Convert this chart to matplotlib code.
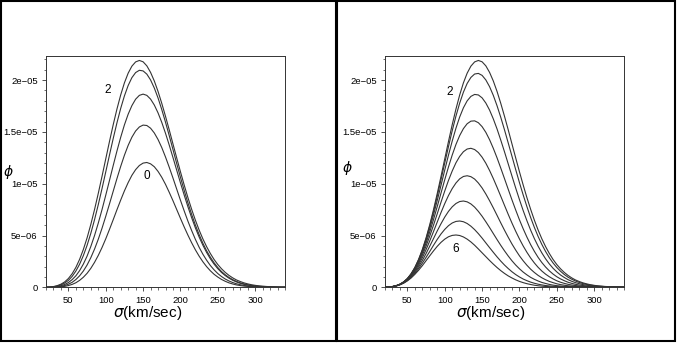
import matplotlib
matplotlib.use('Agg')
import matplotlib.pyplot as plt
from matplotlib.patches import Rectangle
from matplotlib.ticker import MultipleLocator, FixedLocator

# sigma grid (km/sec)
sigma = list(range(20, 345, 5))
SCALE = 1e-8  # values below are in units of 1e-8

# Left panel: curves from "2" (top) down to "0"
left_2 = [1,3,7,16,30,52,85,131,192,270,365,477,607,751,907,1071,1240,1408,1570,1721,1857,1974,2067,2135,2176,2190,2177,2138,2075,1992,1891,1776,1651,1520,1384,1249,1116,988,866,753,648,553,468,393,327,269,220,179,144,115,91,71,56,43,33,25,19,14,11,8,6,4,3,2,2]
left_b = [1,2,5,12,23,41,67,105,157,223,306,405,521,653,798,953,1114,1277,1437,1588,1727,1848,1948,2024,2073,2095,2089,2058,2002,1924,1828,1716,1594,1464,1330,1195,1063,936,816,704,601,509,426,353,291,237,191,152,121,95,74,57,43,33,25,18,13,10,7,5,4,3,2,1,1]
left_c = [0,1,3,8,15,27,46,74,111,161,224,301,394,500,620,750,889,1032,1176,1316,1448,1568,1671,1754,1816,1853,1865,1853,1817,1760,1684,1592,1487,1373,1253,1131,1009,891,778,672,574,486,407,337,276,224,180,143,113,88,68,52,39,29,22,16,12,8,6,4,3,2,1,1,1]
left_d = [0,1,2,4,9,17,30,48,75,111,157,215,286,369,464,570,685,805,928,1050,1167,1275,1370,1449,1509,1548,1566,1562,1536,1490,1427,1349,1258,1159,1055,948,841,738,639,548,463,387,320,262,211,169,133,104,80,61,46,34,25,18,13,9,7,5,3,2,1,1,1,0,0]
left_0 = [0,0,1,2,5,9,17,28,44,67,97,135,183,241,308,384,468,559,653,749,842,931,1011,1081,1136,1176,1199,1205,1192,1164,1119,1062,994,917,836,751,666,583,504,430,362,301,247,200,160,126,99,76,58,43,32,23,17,12,9,6,4,3,2,1,1,1,0,0,0]

# Right panel: curves from "2" (top) down to "6"
right_2 = left_2
right_b = [1,3,7,16,30,52,84,130,189,265,358,468,593,732,882,1040,1201,1359,1512,1653,1778,1884,1968,2026,2059,2065,2046,2002,1937,1853,1753,1641,1520,1393,1265,1136,1011,892,779,674,578,491,414,346,286,235,192,155,124,98,78,61,47,36,28,21,16,12,9,6,5,3,2,2,1]
right_c = [1,3,7,15,29,51,83,127,185,258,346,451,569,700,840,985,1132,1276,1412,1536,1644,1733,1800,1843,1862,1857,1829,1779,1711,1626,1529,1421,1308,1191,1074,958,847,741,643,552,470,397,332,275,226,184,149,119,95,74,58,45,35,26,20,15,11,8,6,4,3,2,2,1,1]
right_d = [1,3,7,15,29,50,80,123,178,247,330,427,536,655,781,910,1039,1162,1277,1379,1465,1532,1579,1604,1607,1589,1551,1496,1425,1342,1250,1151,1049,946,844,746,652,565,485,412,347,289,239,196,159,128,102,81,64,49,38,29,22,17,12,9,7,5,4,3,2,1,1,1,0]
right_e = [1,3,7,15,28,48,78,117,169,233,310,398,496,601,711,822,930,1032,1123,1202,1264,1309,1335,1342,1330,1301,1256,1198,1128,1050,966,879,791,704,620,541,467,399,338,283,235,193,157,127,102,81,63,49,38,29,22,17,13,9,7,5,4,3,2,1,1,1,0,0,0]
right_f = [1,3,7,14,27,46,74,111,159,217,286,364,449,539,631,722,808,886,953,1007,1047,1070,1077,1068,1045,1007,959,901,836,767,695,622,551,483,418,359,304,256,213,175,143,115,92,73,57,45,34,26,20,15,11,8,6,4,3,2,2,1,1,1,0,0,0,0,0]
right_g = [1,3,7,14,26,44,70,104,147,199,259,326,398,471,545,614,678,733,777,809,828,833,825,805,774,733,686,633,577,519,461,405,352,302,256,215,179,147,120,96,77,61,47,37,28,21,16,12,9,7,5,3,2,2,1,1,1,0,0,0,0,0,0,0,0]
right_h = [1,3,6,13,25,42,66,97,135,181,233,289,347,406,463,515,559,595,621,636,640,633,616,590,557,518,475,429,383,338,294,253,215,181,150,123,100,80,64,50,39,30,23,17,13,10,7,5,4,3,2,1,1,1,0,0,0,0,0,0,0,0,0,0,0]
right_6 = [1,3,6,13,24,40,62,90,125,165,209,257,305,352,396,434,465,488,501,505,500,486,465,438,406,370,333,296,259,224,191,161,134,110,90,72,57,45,35,27,20,15,11,8,6,4,3,2,2,1,1,1,0,0,0,0,0,0,0,0,0,0,0,0,0]

left_curves = [left_2, left_b, left_c, left_d, left_0]
right_curves = [right_2, right_b, right_c, right_d, right_e, right_f, right_g, right_h, right_6]

x_ticks = [50, 100, 150, 200, 250, 300]
y_ticks = [0, 5e-6, 1e-5, 1.5e-5, 2e-5]
y_tick_labels = ['0', '5e\u221206', '1e\u221205', '1.5e\u221205', '2e\u221205']

fig = plt.figure(figsize=(6.78, 3.45), dpi=100)
W, H = 678, 345


def add_axes(x0, x1, curves):
    ax = fig.add_axes([x0 / W, 1 - 287.3 / H, (x1 - x0) / W, (287.3 - 56) / H])
    for c in curves:
        ax.plot(sigma, [v * SCALE for v in c], color='#333333', lw=0.8)
    ax.set_xlim(20, 340)
    ax.set_ylim(0, 2.233e-5)
    ax.xaxis.set_major_locator(FixedLocator(x_ticks))
    ax.xaxis.set_minor_locator(MultipleLocator(10))
    ax.yaxis.set_major_locator(FixedLocator(y_ticks))
    ax.yaxis.set_minor_locator(MultipleLocator(1e-6))
    ax.set_xticklabels([str(t) for t in x_ticks], family='Liberation Sans', fontsize=6.8)
    ax.set_yticklabels(y_tick_labels, family='Liberation Sans', fontsize=6.8)
    ax.tick_params(which='major', length=3, width=0.6, pad=3, color='#333333')
    ax.tick_params(which='minor', length=1.8, width=0.5, color='#333333')
    for s in ax.spines.values():
        s.set_linewidth(0.7)
        s.set_color('#333333')
    return ax


axL = add_axes(46, 285, left_curves)
axR = add_axes(385, 624, right_curves)

lab = dict(fontsize=8.5, family='Liberation Sans', ha='center', va='center')
axL.text(103, 1.9e-5, '2', **lab)
axL.text(155, 1.07e-5, '0', **lab)
axR.text(106, 1.888e-5, '2', **lab)
axR.text(115, 3.7e-6, '6', **lab)

for xc in (148, 491):
    fig.text(xc / W, 1 - 313 / H, r'$\sigma$(km/sec)', fontsize=11,
             family='Liberation Sans', ha='center', va='center')
for xc, yc in ((8, 172), (347, 168)):
    fig.text(xc / W, 1 - yc / H, r'$\phi$', fontsize=10, ha='center', va='center')

for x0, x1 in ((1, 336), (337, 675)):
    fig.patches.append(Rectangle((x0 / W, 1 - 341 / H), (x1 - x0) / W, 340 / H,
                                 transform=fig.transFigure, fill=False,
                                 edgecolor='black', lw=1.5))

fig.savefig('out.png', dpi=100)
